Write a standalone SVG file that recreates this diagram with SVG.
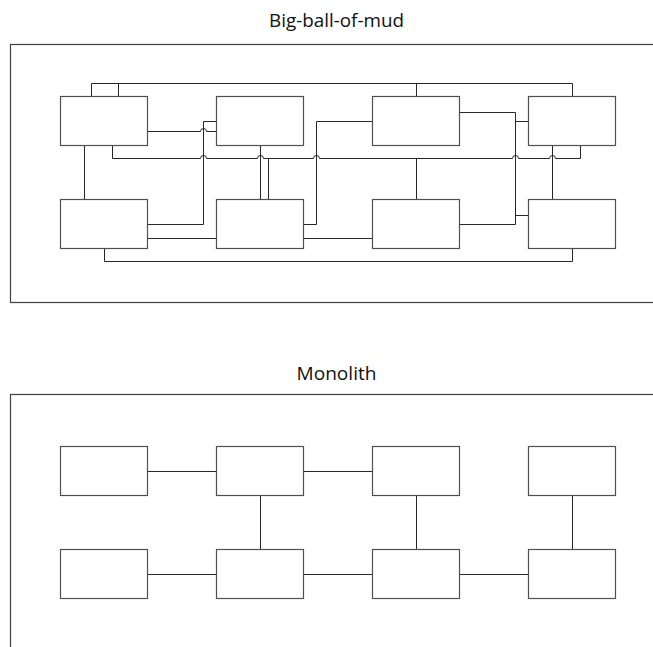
<svg xmlns="http://www.w3.org/2000/svg" width="653" height="647" viewBox="0 0 653 647">
<style>
.frame{fill:none;stroke:#404040;stroke-width:1.2}
.box{fill:#fff;stroke:#505050;stroke-width:1.2}
.conn path{fill:none;stroke:#262626;stroke-width:1}
.title{font-family:"Open Sans","Noto Sans",sans-serif;font-size:19px;fill:#111;text-anchor:middle}
</style>
<rect width="653" height="647" fill="#fff"/>
<g id="title-mud"><text class="title" x="336.5" y="27" textLength="135" lengthAdjust="spacingAndGlyphs">Big-ball-of-mud</text></g>
<g id="frame-mud"><rect class="frame" x="10.5" y="44.5" width="700" height="258"/></g>
<g id="title-mono"><text class="title" x="336.5" y="380" textLength="80" lengthAdjust="spacingAndGlyphs">Monolith</text></g>
<g id="frame-mono"><rect class="frame" x="10.5" y="394.5" width="700" height="300"/></g>
<g id="connectors" class="conn">
<path d="M91.5 96.5 V83.5 H572.5 V96.5 M118.5 83.5 V96.5 M416.5 83.5 V96.5"/>
<path d="M147.5 131.5 H200.5 A3 3 0 0 1 206.5 131.5 H216.5"/>
<path d="M216.5 121.5 H203.5 V224.5 H147.5"/>
<path d="M112.5 145.5 V158.5 H200.5 A3 3 0 0 1 206.5 158.5 H257.5 A3 3 0 0 1 263.5 158.5 H313.5 A3 3 0 0 1 319.5 158.5 H512.5 A3 3 0 0 1 518.5 158.5 H549.5 A3 3 0 0 1 555.5 158.5 H580.5 V145.5"/>
<path d="M416.5 158.5 V199.5 M268.5 158.5 V199.5"/>
<path d="M84.5 145.5 V199.5 M260.5 145.5 V199.5"/>
<path d="M147.5 238.5 H216.5 M303.5 238.5 H372.5"/>
<path d="M104.5 248.5 V261.5 H572.5 V248.5"/>
<path d="M303.5 224.5 H316.5 V121.5 H372.5"/>
<path d="M459.5 112.5 H515.5 V224.5 H459.5 M515.5 121.5 H528.5 M515.5 215.5 H528.5"/>
<path d="M552.5 145.5 V199.5"/>
<path d="M147.5 471.5 H216.5 M303.5 471.5 H372.5"/>
<path d="M147.5 574.5 H216.5 M303.5 574.5 H372.5 M459.5 574.5 H528.5"/>
<path d="M260.5 495.5 V549.5 M416.5 495.5 V549.5 M572.5 495.5 V549.5"/>
</g>
<g id="mud-a1"><rect class="box" x="60.5" y="96.5" width="87" height="49"/></g>
<g id="mud-b1"><rect class="box" x="216.5" y="96.5" width="87" height="49"/></g>
<g id="mud-c1"><rect class="box" x="372.5" y="96.5" width="87" height="49"/></g>
<g id="mud-d1"><rect class="box" x="528.5" y="96.5" width="87" height="49"/></g>
<g id="mud-a2"><rect class="box" x="60.5" y="199.5" width="87" height="49"/></g>
<g id="mud-b2"><rect class="box" x="216.5" y="199.5" width="87" height="49"/></g>
<g id="mud-c2"><rect class="box" x="372.5" y="199.5" width="87" height="49"/></g>
<g id="mud-d2"><rect class="box" x="528.5" y="199.5" width="87" height="49"/></g>
<g id="mono-a1"><rect class="box" x="60.5" y="446.5" width="87" height="49"/></g>
<g id="mono-b1"><rect class="box" x="216.5" y="446.5" width="87" height="49"/></g>
<g id="mono-c1"><rect class="box" x="372.5" y="446.5" width="87" height="49"/></g>
<g id="mono-d1"><rect class="box" x="528.5" y="446.5" width="87" height="49"/></g>
<g id="mono-a2"><rect class="box" x="60.5" y="549.5" width="87" height="49"/></g>
<g id="mono-b2"><rect class="box" x="216.5" y="549.5" width="87" height="49"/></g>
<g id="mono-c2"><rect class="box" x="372.5" y="549.5" width="87" height="49"/></g>
<g id="mono-d2"><rect class="box" x="528.5" y="549.5" width="87" height="49"/></g>
</svg>
